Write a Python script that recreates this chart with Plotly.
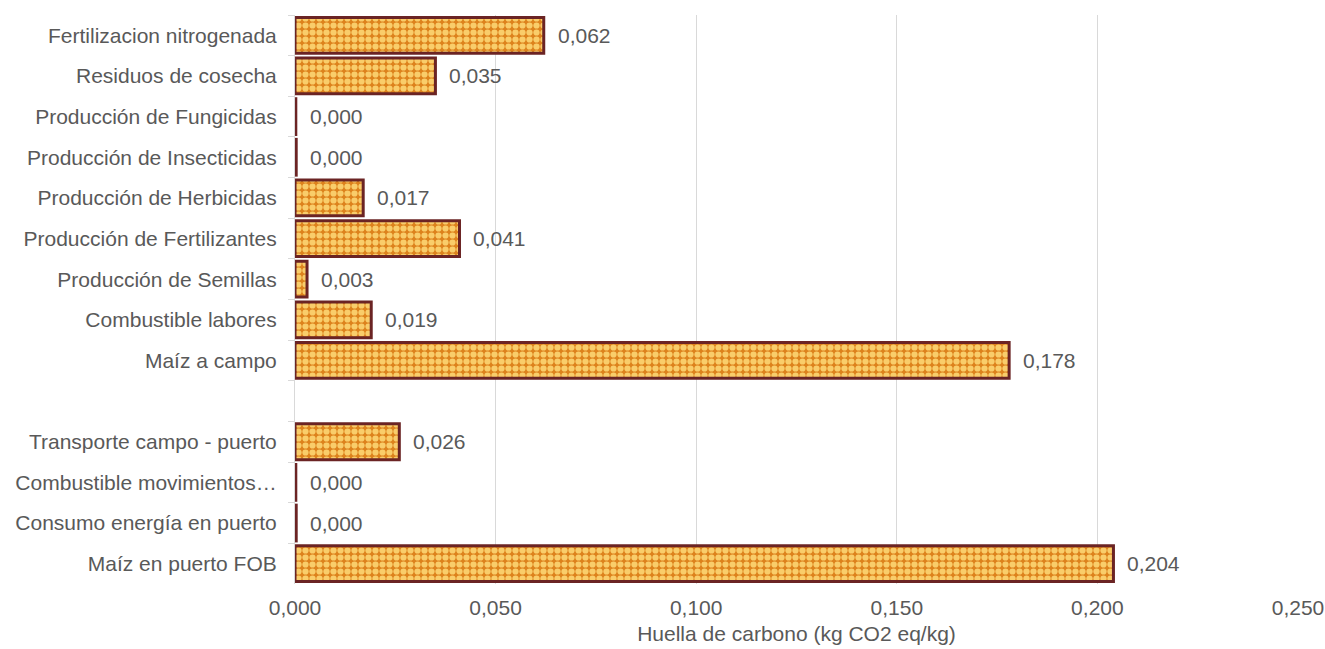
import plotly.graph_objects as go

# Carbon footprint stages for corn, top to bottom (blank row separates field and port)
categories = [
    "Fertilizacion nitrogenada",
    "Residuos de cosecha",
    "Producción de Fungicidas",
    "Producción de Insecticidas",
    "Producción de Herbicidas",
    "Producción de Fertilizantes",
    "Producción de Semillas",
    "Combustible labores",
    "Maíz a campo",
    " ",
    "Transporte campo - puerto",
    "Combustible movimientos…",
    "Consumo energía en puerto",
    "Maíz en puerto FOB",
]
values = [0.062, 0.035, 0.0002, 0.0003, 0.017, 0.041, 0.003, 0.019, 0.178,
          None, 0.026, 0.0002, 0.0003, 0.204]
x_ticks = [0.0, 0.05, 0.10, 0.15, 0.20, 0.25]

GRAY = "#595959"
FONT = "Arial, Liberation Sans, sans-serif"
FSIZE = 21

fig = go.Figure()
fig.add_trace(go.Bar(
    y=categories,
    x=values,
    orientation="h",
    marker=dict(
        color="#E8962A",
        line=dict(color="#6B2424", width=3),
        pattern=dict(shape=".", fgcolor="#F9CD6A", bgcolor="#DD821C",
                     size=7, solidity=0.62, fillmode="replace"),
    ),
    hoverinfo="skip",
))

annotations = []
for cat, v in zip(categories, values):
    if v is None:
        continue
    annotations.append(dict(
        x=v, y=cat, xref="x", yref="y",
        text=f"{v:.3f}".replace(".", ","),
        showarrow=False, xanchor="left", xshift=12,
        font=dict(family=FONT, size=FSIZE, color=GRAY),
    ))

fig.update_layout(
    width=1325, height=649,
    margin=dict(l=295, r=27, t=15, b=65, autoexpand=False),
    paper_bgcolor="white", plot_bgcolor="white",
    separators=",.",
    bargap=0.12,
    showlegend=False,
    annotations=annotations,
    font=dict(family=FONT, size=FSIZE, color=GRAY),
    xaxis=dict(
        range=[0, 0.25],
        tickvals=x_ticks,
        tickformat=".3f",
        automargin=False,
        showgrid=True, gridcolor="#D9D9D9", gridwidth=1,
        zeroline=False, showline=False,
        ticks="",
        ticklabelstandoff=9,
        tickfont=dict(family=FONT, size=FSIZE, color=GRAY),
        title=dict(text="Huella de carbono (kg CO2 eq/kg)",
                   font=dict(family=FONT, size=FSIZE, color=GRAY), standoff=8),
    ),
    yaxis=dict(
        type="category",
        categoryorder="array", categoryarray=categories,
        autorange="reversed",
        automargin=False,
        showline=True, linecolor="#D9D9D9", linewidth=1,
        ticks="outside", ticklen=6, tickcolor="#D9D9D9",
        tickson="boundaries",
        ticklabelstandoff=13,
        tickfont=dict(family=FONT, size=FSIZE, color=GRAY),
        showgrid=False,
    ),
)

fig.write_html("out.html")
